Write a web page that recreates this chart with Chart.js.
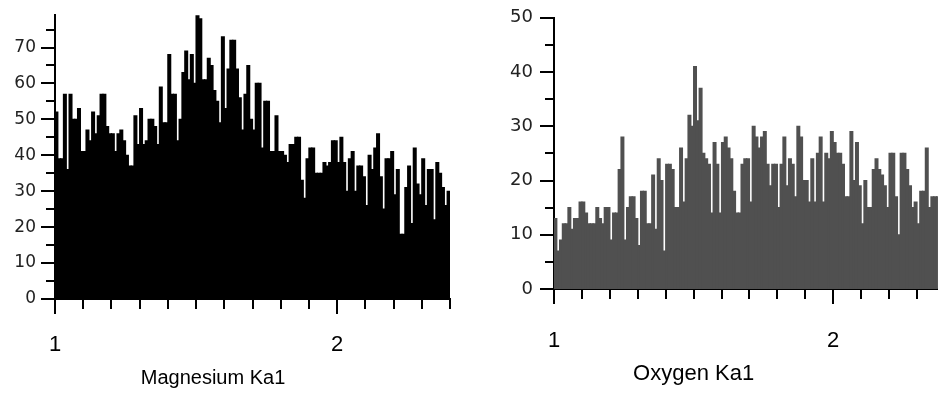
<!DOCTYPE html>
<html>
<head>
<meta charset="utf-8">
<script src="https://cdn.jsdelivr.net/npm/chart.js@4"></script>
<style>
  body { margin: 0; background: #fff; overflow: hidden; }
  .box { position: absolute; top: 0; }
</style>
</head>
<body>
<div class="box" style="left:0px"><canvas id="mgCanvas" width="470" height="394"></canvas></div>
<div class="box" style="left:470px"><canvas id="oCanvas" width="471" height="394"></canvas></div>
<script>
// Spectrum channels: start energy and channel width (keV)
const energyStart = 1.0;
const channelWidth = 0.01;

// Counts per channel
const magnesiumCounts = [
  52, 39, 39, 57, 36, 57, 50, 50, 53, 41,
  41, 47, 44, 52, 46, 51, 57, 57, 48, 46,
  46, 41, 46, 47, 44, 40, 37, 37, 51, 43,
  53, 43, 44, 50, 50, 48, 43, 59, 49, 49,
  68, 57, 57, 44, 50, 63, 69, 61, 68, 60,
  79, 78, 61, 61, 67, 65, 58, 55, 49, 73,
  53, 64, 72, 72, 64, 56, 47, 57, 65, 50,
  47, 60, 60, 42, 55, 55, 41, 41, 51, 41,
  41, 40, 38, 43, 43, 45, 45, 33, 28, 39,
  42, 42, 35, 35, 35, 38, 37, 38, 44, 44,
  38, 45, 38, 30, 39, 41, 30, 37, 37, 34,
  26, 40, 36, 42, 46, 34, 25, 39, 39, 41,
  29, 36, 18, 18, 31, 37, 21, 42, 32, 29,
  39, 26, 36, 36, 22, 38, 35, 31, 26, 30
];

const oxygenCounts = [
  13, 7, 9, 12, 12, 15, 11, 13, 13, 16,
  16, 14, 12, 12, 12, 15, 13, 12, 15, 15,
  9, 14, 14, 22, 28, 9, 15, 17, 17, 13,
  8, 18, 18, 12, 12, 21, 11, 24, 20, 7,
  23, 23, 22, 15, 15, 26, 16, 24, 32, 30,
  41, 31, 37, 25, 24, 23, 14, 27, 23, 14,
  27, 28, 26, 24, 18, 14, 14, 23, 24, 24,
  16, 30, 28, 26, 28, 29, 23, 19, 23, 23,
  15, 23, 28, 19, 24, 23, 17, 30, 28, 20,
  20, 16, 24, 16, 25, 28, 16, 25, 24, 29,
  27, 25, 25, 23, 17, 17, 29, 20, 27, 19,
  12, 20, 15, 15, 22, 24, 22, 21, 19, 15,
  25, 25, 17, 10, 25, 25, 22, 19, 15, 16,
  12, 18, 18, 26, 15, 17, 17, 17
];

// Tick labels
const xTickLabels = [1, 2];
const magnesiumYLabels = [0, 10, 20, 30, 40, 50, 60, 70];
const oxygenYLabels = [0, 10, 20, 30, 40, 50];

function isLabelTick(list, value) {
  return list.some(v => Math.abs(v - value) < 1e-6);
}

// draws tick marks (major longer than minor) and the caption under the axis
const tickMarks = {
  id: 'tickMarks',
  afterDraw(chart, args, opts) {
    const ctx = chart.ctx;
    const x = chart.scales.x;
    const y = chart.scales.y;
    ctx.save();
    ctx.strokeStyle = '#000';
    ctx.lineWidth = 2;
    ctx.beginPath();
    x.ticks.forEach(t => {
      const px = Math.round(x.getPixelForValue(t.value));
      const len = isLabelTick(xTickLabels, t.value) ? 15 : 10;
      ctx.moveTo(px, x.top);
      ctx.lineTo(px, x.top + len);
    });
    y.ticks.forEach(t => {
      const py = Math.round(y.getPixelForValue(t.value));
      const len = t.value % 10 === 0 ? 14 : 9;
      ctx.moveTo(y.right, py);
      ctx.lineTo(y.right - len, py);
    });
    ctx.stroke();

    ctx.fillStyle = '#000';
    ctx.font = opts.size + 'px "Liberation Sans", Arial, sans-serif';
    ctx.textAlign = 'center';
    ctx.textBaseline = 'alphabetic';
    ctx.fillText(opts.text, x.getPixelForValue(opts.at), opts.baseline);
    ctx.restore();
  }
};

function criarEspectro(canvasId, counts, cor, cfg) {
  const pontos = counts.map((c, i) => ({ x: energyStart + channelWidth * (i + 0.5), y: c }));
  return new Chart(document.getElementById(canvasId), {
    type: 'bar',
    data: {
      datasets: [{
        data: pontos,
        backgroundColor: cor,
        borderWidth: 0,
        barPercentage: 1,
        categoryPercentage: 1,
        inflateAmount: 0.6
      }]
    },
    options: {
      responsive: false,
      animation: false,
      layout: { padding: { top: cfg.top, right: cfg.right, left: 0, bottom: 0 } },
      scales: {
        x: {
          type: 'linear',
          min: 1,
          max: cfg.xMax,
          offset: false,
          afterFit(s) { s.height = cfg.xHeight; },
          grid: { drawOnChartArea: false, offset: false, tickLength: 15, tickColor: 'transparent' },
          border: { color: '#000', width: 2 },
          ticks: {
            stepSize: 0.1,
            autoSkip: false,
            maxRotation: 0,
            includeBounds: false,
            padding: cfg.xPad,
            color: '#000',
            font: { family: '"Liberation Sans", Arial, sans-serif', size: 22 },
            callback: v => isLabelTick(xTickLabels, v) ? String(Math.round(v)) : ''
          }
        },
        y: {
          min: 0,
          max: cfg.yMax,
          afterFit(s) { s.width = cfg.yWidth; },
          grid: { drawOnChartArea: false, tickLength: 14, tickColor: 'transparent' },
          border: { color: '#000', width: 2 },
          ticks: {
            stepSize: 5,
            autoSkip: false,
            includeBounds: false,
            padding: cfg.yPad,
            color: '#222',
            font: { family: '"DejaVu Sans", sans-serif', size: cfg.yFont },
            callback: v => isLabelTick(cfg.yLabels, v) ? String(v) : ''
          }
        }
      },
      plugins: {
        legend: { display: false },
        tooltip: { enabled: false },
        tickMarks: { text: cfg.caption, at: cfg.captionAt, baseline: cfg.captionY, size: cfg.captionSize }
      }
    },
    plugins: [tickMarks]
  });
}

criarEspectro('mgCanvas', magnesiumCounts, '#000000', {
  top: 8, right: 20, xMax: 2.4, yMax: 79, xHeight: 95, yWidth: 55,
  xPad: 18, yPad: 5, yFont: 17, yLabels: magnesiumYLabels,
  caption: 'Magnesium Ka1', captionAt: 1.56, captionY: 384, captionSize: 20
});

criarEspectro('oCanvas', oxygenCounts, '#505050', {
  top: 13, right: 0, xMax: 2.375, yMax: 50, xHeight: 105, yWidth: 84,
  xPad: 24, yPad: 7, yFont: 18, yLabels: oxygenYLabels,
  caption: 'Oxygen Ka1', captionAt: 1.5, captionY: 380, captionSize: 22
});
</script>
</body>
</html>
